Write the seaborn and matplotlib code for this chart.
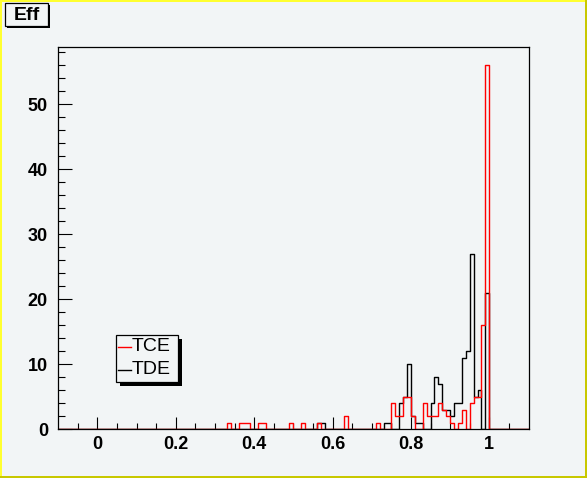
import numpy as np
import pandas as pd
import seaborn as sns
import matplotlib
matplotlib.use("Agg")
import matplotlib.pyplot as plt
from matplotlib.patches import Rectangle
from matplotlib.lines import Line2D
from matplotlib.transforms import IdentityTransform

# ---------------- data (bin centres, counts per bin of width 0.01) ----------------
x_min, x_max, n_bins = -0.1, 1.1, 120

tce_centers = [0.335, 0.365, 0.375, 0.385, 0.415, 0.425, 0.495, 0.525, 0.565, 0.635,
               0.715, 0.755, 0.765, 0.775, 0.785, 0.795, 0.805, 0.835, 0.845, 0.855,
               0.865, 0.875, 0.885, 0.895, 0.905, 0.925, 0.935, 0.955, 0.965, 0.975,
               0.985, 0.995]
tce_counts = [1, 1, 1, 1, 1, 1, 1, 1, 1, 2,
              1, 4, 2, 2, 5, 5, 2, 4, 2, 2,
              2, 4, 3, 2, 1, 1, 3, 4, 5, 5,
              16, 56]

tde_centers = [0.565, 0.575, 0.735, 0.745, 0.775, 0.785, 0.795, 0.805, 0.815, 0.825,
               0.855, 0.865, 0.875, 0.885, 0.895, 0.905, 0.915, 0.925, 0.935, 0.945,
               0.955, 0.965, 0.975, 0.995]
tde_counts = [1, 1, 1, 1, 4, 5, 10, 2, 1, 1,
              4, 8, 7, 3, 3, 2, 4, 4, 11, 12,
              27, 5, 6, 21]

x_major = [0, 0.2, 0.4, 0.6, 0.8, 1.0]
x_major_labels = ["0", "0.2", "0.4", "0.6", "0.8", "1"]
y_major = [0, 10, 20, 30, 40, 50]
series_names = ["TCE", "TDE"]
series_colors = ["#ff0000", "#000000"]

# ---------------- figure ----------------
W, H = 587, 478
BG = "#f2f5f6"
fig = plt.figure(figsize=(W / 100, H / 100), dpi=100)
fig.patch.set_facecolor(BG)

def fx(px):
    return px / W

def fy(py):
    return 1 - py / H

left, right, top, bottom = 58.3, 528.5, 47.3, 429.3
ax = fig.add_axes([fx(left), fy(bottom), fx(right) - fx(left), fy(top) - fy(bottom)])
ax.set_facecolor(BG)

df_tde = pd.DataFrame({"x": tde_centers, "w": tde_counts})
df_tce = pd.DataFrame({"x": tce_centers, "w": tce_counts})

sns.histplot(data=df_tde, x="x", weights="w", bins=n_bins, binrange=(x_min, x_max),
             element="step", fill=False, color=series_colors[1], linewidth=1.0, ax=ax)
sns.histplot(data=df_tce, x="x", weights="w", bins=n_bins, binrange=(x_min, x_max),
             element="step", fill=False, color=series_colors[0], linewidth=1.0, ax=ax)

ax.set_xlim(x_min, x_max)
ymax = 1.05 * max(max(tce_counts), max(tde_counts))
ax.set_ylim(0, ymax)
ax.set_xlabel("")
ax.set_ylabel("")

ax.set_xticks(x_major)
ax.set_xticklabels(x_major_labels)
ax.set_xticks([t for t in np.arange(-0.05, 1.0501, 0.05) if min(abs(t - m) for m in x_major) > 1e-6], minor=True)
ax.set_yticks(y_major)
ax.set_yticks([t for t in range(2, 59, 2) if t % 10 != 0], minor=True)

for lab in ax.get_xticklabels() + ax.get_yticklabels():
    lab.set_fontfamily("Liberation Sans")
    lab.set_fontweight("bold")
    lab.set_fontsize(13)

ax.tick_params(axis="x", which="major", direction="in", length=8.3, width=0.8, pad=5, colors="black")
ax.tick_params(axis="x", which="minor", direction="in", length=4.1, width=0.8)
ax.tick_params(axis="y", which="major", direction="in", length=10, width=0.8, pad=7.5)
ax.tick_params(axis="y", which="minor", direction="in", length=5, width=0.8)
ax.tick_params(top=False, right=False, which="both")
for s in ax.spines.values():
    s.set_color("black")
    s.set_linewidth(0.9)

# ---------------- decorations in pixel space ----------------
def prect(x0, y0, w, h, **kw):
    r = Rectangle((x0, H - y0 - h), w, h, transform=IdentityTransform(), **kw)
    fig.add_artist(r)
    return r

# canvas border
prect(0, 0, W, 2, facecolor="#ffff30", edgecolor="none")
prect(0, 0, 2, H, facecolor="#ffff30", edgecolor="none")
prect(W - 2, 0, 2, H, facecolor="#c8c800", edgecolor="none")
prect(0, H - 2, W, 2, facecolor="#c8c800", edgecolor="none")

# title box "Eff"
prect(7, 5, 43, 23, facecolor="black", edgecolor="none")
prect(5, 3, 43, 23, facecolor=BG, edgecolor="black", linewidth=0.9)
fig.text(fx(26.5), fy(15), "Eff", ha="center", va="center", fontsize=14,
         fontweight="bold", family="Liberation Sans")

# legend
lx0, ly0, lw, lh = 116, 335, 62, 47
prect(lx0 + 4, ly0 + 4, lw, lh, facecolor="black", edgecolor="none")
prect(lx0, ly0, lw, lh, facecolor=BG, edgecolor="black", linewidth=0.9)
entry_y = [346.5, 370]
for name, col, yy in zip(series_names, series_colors, entry_y):
    fig.add_artist(Line2D([fx(118), fx(131)], [fy(yy), fy(yy)], color=col, linewidth=1.0,
                          transform=fig.transFigure))
    fig.text(fx(131.5), fy(yy), name, ha="left", va="center", fontsize=14,
             family="Liberation Sans")

fig.savefig("out.png", dpi=100, facecolor=BG)
